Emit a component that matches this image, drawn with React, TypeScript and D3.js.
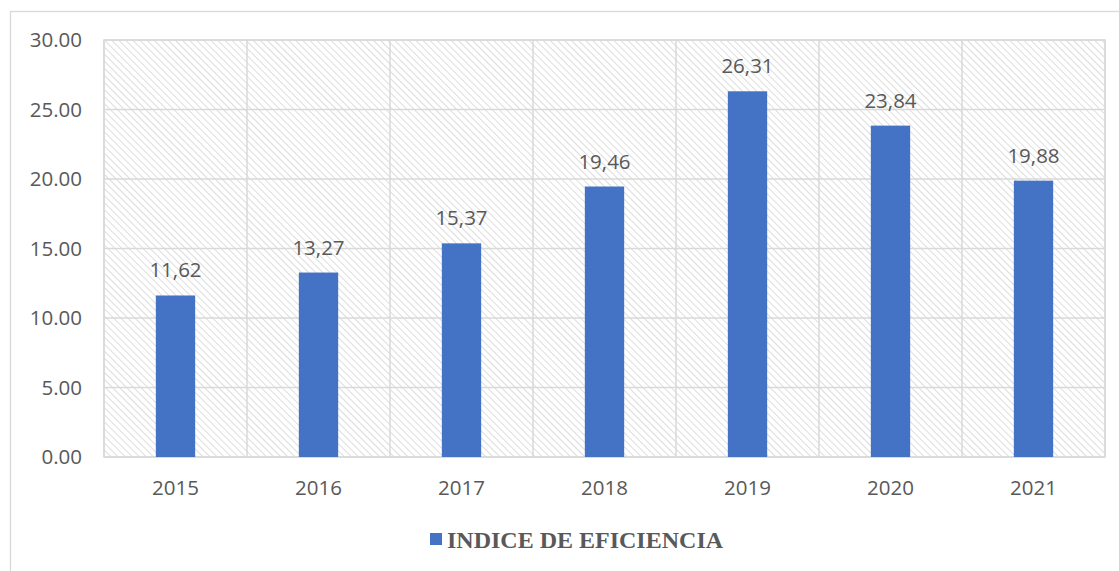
import React from "react";
import * as d3 from "d3";

const categories = ["2015", "2016", "2017", "2018", "2019", "2020", "2021"];
const values = [11.62, 13.27, 15.37, 19.46, 26.31, 23.84, 19.88];
const yTicks = [0, 5, 10, 15, 20, 25, 30];
const seriesName = "INDICE DE EFICIENCIA";

export default function App() {
  const W = 1119, H = 571;
  const left = 104, right = 1105, top = 40, bottom = 457;
  const x = d3.scaleBand<string>().domain(categories).range([left, right]).paddingInner(0).paddingOuter(0);
  const y = d3.scaleLinear().domain([0, 30]).range([bottom, top]);
  const barW = x.bandwidth() * 0.275;
  const grid = "#d9d9d9";
  const txt = "#595959";
  const fs = 20.5;
  const fmt = (v: number) => v.toFixed(2).replace(".", ",");
  return (
    <svg width={W} height={H} style={{ position: "absolute", left: 0, top: 0, background: "#fff" }}>
      <defs>
        <pattern id="hatch" width="5" height="5" patternUnits="userSpaceOnUse" patternTransform="rotate(-45)">
          <rect width="5" height="5" fill="#ffffff" />
          <line x1="0" y1="0" x2="0" y2="5" stroke="#d2d2d2" strokeWidth="1.5" />
        </pattern>
      </defs>
      <rect x={10.5} y={11.5} width={1120} height={580} fill="#fff" stroke={grid} strokeWidth={1.3} />
      <rect x={left} y={top} width={right - left} height={bottom - top} fill="url(#hatch)" stroke={grid} strokeWidth={1.5} />
      {yTicks.map((t) => (
        <g key={t}>
          <line x1={left} x2={right} y1={y(t)} y2={y(t)} stroke={grid} strokeWidth={1.5} />
          <text x={82} y={y(t)} dy="0.36em" textAnchor="end" fontFamily="Open Sans" fontSize={fs} fill={txt}>
            {t.toFixed(2)}
          </text>
        </g>
      ))}
      {categories.map((c) => (
        <line key={"v" + c} x1={x(c)!} x2={x(c)!} y1={top} y2={bottom} stroke={grid} strokeWidth={1.5} />
      ))}
      <line x1={right} x2={right} y1={top} y2={bottom} stroke={grid} strokeWidth={1.5} />
      {categories.map((c, i) => {
        const cx = x(c)! + x.bandwidth() / 2;
        return (
          <g key={c}>
            <rect x={cx - barW / 2} y={y(values[i])} width={barW} height={bottom - y(values[i])} fill="#4472c4" />
            <text x={cx} y={y(values[i]) - 18} textAnchor="middle" fontFamily="Open Sans" fontSize={fs} fill={txt}>
              {fmt(values[i])}
            </text>
            <text x={cx} y={495} textAnchor="middle" fontFamily="Open Sans" fontSize={fs} fill={txt}>
              {c}
            </text>
          </g>
        );
      })}
      <rect x={430} y={533} width={12} height={12} fill="#4472c4" />
      <text x={447} y={548} fontFamily="Liberation Serif" fontWeight="bold" fontSize={24} fill={txt}>
        {seriesName}
      </text>
    </svg>
  );
}
